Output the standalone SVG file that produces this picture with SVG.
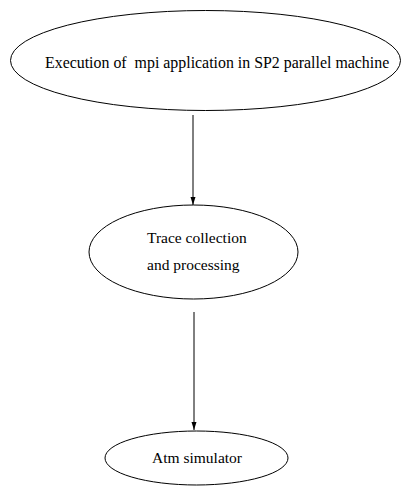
<svg xmlns="http://www.w3.org/2000/svg" width="401" height="487" viewBox="0 0 401 487">
<style>
.n{fill:none;stroke:#000;stroke-width:1}
.t{font-family:"Liberation Serif","Times New Roman",serif;font-size:15.5px;fill:#000;white-space:pre}
.c{stroke:#000;stroke-width:1;fill:none}
</style>
<defs>
<marker id="ah" markerWidth="8" markerHeight="8" refX="8" refY="4" orient="auto" markerUnits="userSpaceOnUse">
<path d="M0,1.5 L8,4 L0,6.5 Z" fill="#000"/>
</marker>
</defs>
<rect width="401" height="487" fill="#fff"/>
<g id="connectors">
<line class="c" x1="193" y1="115" x2="193" y2="205" marker-end="url(#ah)"/>
<line class="c" x1="194" y1="312" x2="194" y2="430" marker-end="url(#ah)"/>
</g>
<g id="n1">
<ellipse class="n" cx="205.5" cy="60.5" rx="195" ry="50"/>
<text class="t" x="45" y="68" style="font-size:15.9px" xml:space="preserve">Execution of  mpi application in SP2 parallel machine</text>
</g>
<g id="n2">
<ellipse class="n" cx="193.5" cy="252" rx="104.5" ry="47"/>
<text class="t" x="147" y="243">Trace collection</text>
<text class="t" x="147" y="270">and processing</text>
</g>
<g id="n3">
<ellipse class="n" cx="196.5" cy="458" rx="91.5" ry="27"/>
<text class="t" x="152" y="463">Atm simulator</text>
</g>
</svg>
